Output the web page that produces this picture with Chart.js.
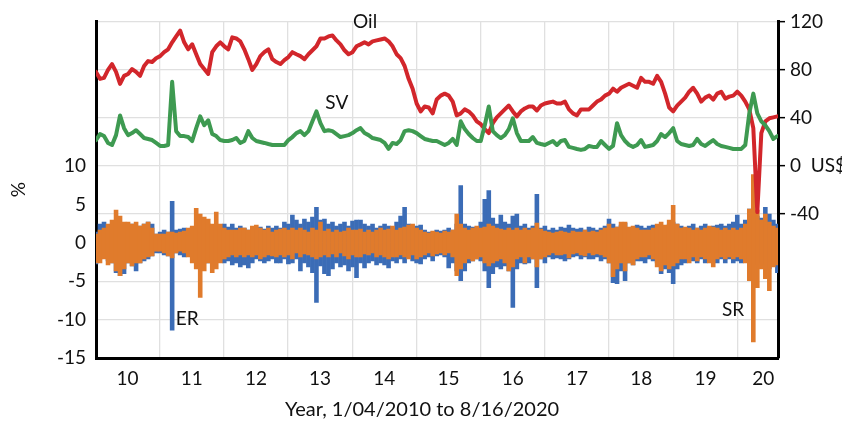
<!DOCTYPE html>
<html lang="en">
<head>
<meta charset="UTF-8">
<title>Oil price, SV, ER and SR, 2010-2020</title>
<script src="https://cdn.jsdelivr.net/npm/chart.js"></script>
<style>
  html, body { margin: 0; padding: 0; background: #fff; }
</style>
</head>
<body>
<canvas id="mainChart" width="842" height="425"></canvas>

<script>
// samples run evenly from 1/04/2010 to 8/16/2020 (decimal years)
const startYear = 2010.01;
const endYear = 2020.62;

// Oil price, US$ (right axis)
const oilPrice = [
  78, 72.2, 73, 79.6, 84.5, 78, 68, 74.7, 76.3, 80.4, 78, 74.7, 82.9, 87, 86.2, 89.4, 91.1, 94.4, 96.8, 102.6,
  107.5, 112.4, 102.6, 96.8, 100.9, 92.7, 84.5, 80.4, 76.3, 94.4, 99.3, 102.6, 99.3, 96.8, 106.7, 105.8, 103.4, 96.8, 88.6, 79.6,
  84.5, 91.1, 94.4, 96.8, 88.6, 86.2, 84.5, 87.8, 90.3, 94.4, 92.7, 91.1, 88.6, 92.7, 96, 99.3, 105.8, 105.8, 107.5, 108.3,
  104.2, 100.9, 96, 92.7, 94.4, 99.3, 100.9, 102.6, 100.9, 103.4, 104.2, 105, 105.8, 103.4, 99.3, 92.7, 89.4, 82.9, 72.2, 64,
  51.7, 45.1, 49.2, 48.4, 43.5, 55, 58.3, 59.9, 58.3, 53.3, 41.8, 43.5, 46.8, 45.1, 41.8, 36.9, 34.5, 30.4, 27.1, 35.3,
  40.2, 43.5, 46.8, 50, 45.1, 41, 45.1, 47.6, 49.2, 49.2, 45.9, 50, 51.7, 52.5, 53.3, 51.7, 51.7, 53.3, 46.8, 43.5,
  41.8, 46.8, 46.8, 46.8, 50, 53.3, 55, 58.3, 59.9, 64, 61.5, 64.8, 66.5, 68.1, 66.5, 64.8, 73, 69.7, 69.7, 68.1,
  74.7, 69.7, 59.9, 48.4, 45.1, 50, 53.3, 56.6, 61.5, 64.8, 59.9, 53.3, 56.6, 58.3, 55, 59.9, 61.5, 55.8, 57.4, 58.3,
  61.5, 58.3, 53.3, 46.8, 31.2, -38.6, 27.1, 36.9, 39.4, 40.2, 41
];

// SV level (right axis)
const svLevel = [
  21.3, 26.3, 24.6, 18.9, 17.2, 25.4, 41.8, 31.2, 25.4, 27.1, 29.5, 26.3, 23, 22.2, 21.3, 18.9, 16.4, 16.4, 17.2, 69.7,
  28.7, 24.6, 24.6, 23.8, 20.5, 31.2, 41, 33.6, 37.7, 26.3, 24.6, 21.3, 20.5, 20.5, 21.3, 23, 18.9, 20.5, 28.7, 23,
  20.5, 19.7, 18.9, 18, 17.2, 17.2, 17.2, 17.2, 21.3, 23.8, 27.1, 28.7, 25.4, 28.7, 36.9, 45.1, 35.3, 28.7, 29.5, 28.7,
  26.3, 23.8, 24.6, 25.4, 27.1, 29.5, 31.2, 27.1, 25.4, 23, 22.2, 21.3, 18.9, 13.9, 18.9, 18, 21.3, 28.7, 29.5, 28.7,
  27.1, 24.6, 22.2, 21.3, 20.5, 20.5, 18.9, 17.2, 18.9, 22.2, 17.2, 36.9, 30.4, 26.3, 23, 20.5, 20.5, 33.6, 49.2, 28.7,
  25.4, 23, 25.4, 30.4, 39.4, 27.1, 20.5, 20.5, 20.5, 23.8, 18.9, 18, 17.2, 18.9, 20.5, 17.2, 20.5, 21.3, 15.6, 14.8,
  13.9, 13.1, 13.9, 16.4, 15.6, 15.6, 20.5, 17.2, 13.9, 16.4, 35.3, 25.4, 20.5, 17.2, 15.6, 17.2, 21.3, 15.6, 16.4, 17.2,
  20.5, 26.3, 23.8, 27.1, 31.2, 20.5, 18, 17.2, 16.4, 17.2, 22.2, 18, 16.4, 18.9, 21.3, 18, 16.4, 15.6, 14.8, 13.9,
  13.9, 13.9, 17.2, 43.5, 59.9, 43.5, 36.9, 33.6, 28.7, 22.2, 24.6
];

// ER returns, %: upper and lower swing in each sample window (left axis)
const erHigh = [
  1.48, 2.51, 2.77, 2.13, 1.74, 2.26, 2.0, 1.74, 2.26, 2.51, 2.0, 2.26, 2.51, 2.77, 2.51, 1.22, 1.48, 1.74, 1.48, 5.48,
  1.74, 1.87, 2.0, 1.74, 2.13, 2.26, 2.51, 2.77, 2.51, 2.26, 2.26, 2.13, 2.51, 2.13, 2.51, 2.0, 2.26, 2.0, 1.74, 2.0,
  1.74, 2.13, 1.87, 2.26, 2.0, 2.26, 2.0, 2.77, 2.51, 3.67, 3.03, 2.51, 3.16, 2.77, 3.41, 4.7, 3.03, 3.16, 2.51, 2.77,
  2.26, 2.51, 2.77, 2.26, 2.9, 3.03, 3.03, 2.51, 2.26, 2.51, 2.0, 2.26, 2.51, 2.26, 2.0, 2.77, 3.54, 4.7, 2.51, 2.0,
  2.26, 2.38, 1.74, 1.48, 1.48, 1.74, 1.61, 1.74, 2.0, 1.74, 2.51, 7.54, 2.51, 2.26, 2.13, 2.0, 2.77, 5.73, 6.89, 3.29,
  2.51, 3.67, 2.77, 2.51, 3.54, 3.8, 2.26, 2.51, 2.0, 2.26, 6.38, 2.0, 2.26, 1.74, 2.0, 1.74, 2.13, 2.0, 2.38, 2.0,
  1.87, 2.0, 1.74, 2.13, 2.0, 1.74, 2.0, 2.26, 3.16, 2.51, 2.13, 2.38, 2.64, 2.0, 2.13, 2.38, 2.26, 2.0, 2.26, 2.38,
  2.0, 2.26, 2.26, 2.51, 2.77, 2.51, 2.26, 2.0, 2.26, 2.51, 2.0, 2.26, 2.51, 2.13, 2.26, 2.38, 2.51, 2.26, 2.51, 2.77,
  3.67, 2.51, 3.03, 4.45, 3.8, 3.54, 3.29, 4.7, 3.8, 3.03, 2.51
];
const erLow = [
  -2.77, -2.13, -1.74, -2.38, -2.64, -3.93, -4.32, -4.06, -2.64, -3.03, -3.67, -2.64, -2.38, -2.13, -1.74, -1.35, -1.35, -1.61, -1.74, -11.4,
  -1.35, -1.61, -1.87, -1.74, -1.87, -2.13, -2.64, -2.64, -2.64, -2.38, -2.13, -2.13, -2.64, -2.38, -2.9, -2.64, -3.16, -2.9, -3.29, -2.64,
  -2.13, -2.38, -2.64, -2.38, -2.13, -2.64, -2.64, -2.13, -2.77, -2.64, -2.13, -3.67, -2.64, -3.16, -3.93, -7.8, -3.03, -4.06, -4.32, -3.41,
  -2.64, -3.16, -2.9, -3.67, -3.16, -4.57, -2.64, -3.29, -2.64, -2.38, -2.9, -2.64, -2.9, -3.29, -2.38, -2.64, -2.13, -2.64, -1.87, -2.38,
  -2.64, -2.77, -2.13, -1.87, -2.38, -1.74, -1.61, -1.87, -3.29, -2.64, -3.67, -4.96, -3.67, -2.64, -2.38, -2.13, -2.38, -3.67, -5.86, -4.06,
  -3.16, -3.41, -3.03, -3.67, -8.44, -3.41, -2.64, -2.77, -2.64, -2.13, -5.86, -2.13, -2.64, -1.87, -2.13, -2.0, -2.13, -2.38, -2.13, -1.87,
  -1.74, -2.13, -1.87, -2.13, -2.13, -1.87, -2.38, -2.13, -2.64, -5.22, -5.35, -3.67, -4.96, -2.64, -2.9, -2.38, -2.38, -2.64, -2.13, -2.38,
  -2.64, -4.06, -3.41, -3.93, -5.35, -3.41, -2.9, -2.64, -2.13, -2.38, -2.64, -2.13, -2.64, -2.38, -2.13, -2.64, -2.13, -2.64, -2.13, -2.64,
  -2.38, -2.64, -2.13, -3.41, -2.9, -2.64, -2.64, -2.64, -3.41, -2.9, -3.93
];

// SR returns, %: upper and lower swing in each sample window (left axis)
const srHigh = [
  1.22, 1.74, 2.0, 2.51, 3.03, 4.32, 3.54, 2.77, 2.77, 2.51, 2.77, 2.26, 2.51, 2.77, 2.0, 1.22, 1.22, 1.22, 1.48, 1.48,
  1.35, 1.48, 1.61, 2.0, 2.26, 4.57, 3.8, 3.41, 3.16, 2.51, 4.06, 2.51, 2.0, 1.74, 1.74, 1.74, 2.0, 2.0, 1.74, 2.26,
  2.38, 2.0, 1.74, 2.0, 1.48, 1.74, 1.87, 2.0, 1.74, 2.0, 1.74, 2.0, 1.74, 1.48, 2.0, 1.74, 2.77, 1.61, 1.87, 1.48,
  1.74, 1.48, 1.61, 2.0, 1.74, 1.74, 1.87, 1.48, 1.74, 1.48, 1.74, 2.0, 1.74, 1.87, 2.26, 1.74, 2.0, 2.13, 2.38, 2.51,
  2.0, 1.74, 1.48, 1.35, 1.61, 1.48, 1.35, 1.61, 1.48, 1.74, 3.8, 2.51, 2.0, 1.74, 2.0, 2.26, 2.0, 2.13, 2.51, 2.26,
  2.0, 1.87, 1.74, 2.0, 1.74, 2.0, 1.74, 2.0, 1.74, 2.0, 2.64, 1.87, 1.61, 1.48, 1.35, 1.48, 1.61, 1.48, 1.35, 1.61,
  1.48, 1.48, 1.74, 1.48, 1.61, 1.48, 1.74, 2.0, 2.51, 2.0, 2.13, 2.77, 2.77, 2.13, 2.26, 2.0, 1.74, 1.74, 1.74, 2.0,
  2.51, 2.77, 2.38, 3.03, 4.96, 2.51, 2.0, 2.13, 2.0, 1.74, 2.0, 1.74, 2.0, 2.26, 2.13, 2.0, 1.74, 2.0, 1.74, 2.0,
  1.74, 2.0, 2.51, 4.45, 8.96, 4.32, 3.03, 3.8, 2.77, 2.26, 2.0
];
const srLow = [
  -2.64, -2.64, -2.13, -2.9, -2.64, -3.67, -4.32, -3.41, -2.64, -3.03, -2.64, -2.64, -2.13, -1.87, -1.74, -1.1, -1.1, -1.35, -1.74, -2.0,
  -1.35, -1.1, -1.35, -1.87, -2.64, -3.41, -7.15, -3.67, -2.64, -3.93, -3.41, -2.64, -2.13, -1.87, -1.61, -1.87, -1.61, -1.87, -1.61, -1.87,
  -1.61, -2.13, -1.87, -1.61, -1.74, -1.87, -1.61, -1.87, -1.61, -2.13, -1.35, -1.87, -1.48, -1.61, -1.87, -2.13, -1.87, -1.61, -1.87, -1.48,
  -1.87, -1.35, -1.74, -2.13, -1.61, -1.87, -1.87, -1.48, -1.61, -1.35, -1.87, -1.61, -1.87, -2.13, -1.87, -1.87, -1.61, -1.87, -2.13, -1.61,
  -2.13, -1.87, -1.61, -1.35, -1.74, -1.48, -1.35, -1.61, -1.35, -1.87, -4.32, -3.41, -2.64, -2.13, -2.38, -2.13, -1.87, -2.64, -3.03, -2.64,
  -2.38, -2.13, -2.64, -3.67, -3.16, -2.13, -1.87, -2.64, -1.87, -2.13, -3.16, -2.13, -1.87, -1.61, -1.35, -1.61, -1.61, -1.48, -2.0, -1.48,
  -1.35, -1.61, -1.74, -1.35, -1.61, -1.48, -1.61, -1.87, -2.64, -4.45, -3.41, -2.64, -3.67, -2.64, -2.9, -2.13, -1.87, -1.87, -1.61, -2.13,
  -3.16, -3.67, -2.9, -3.41, -3.03, -2.64, -2.13, -2.13, -2.64, -1.87, -2.38, -1.87, -2.13, -2.64, -3.16, -2.13, -1.87, -2.13, -1.87, -2.13,
  -1.87, -2.13, -2.64, -4.96, -12.95, -5.86, -3.41, -4.7, -6.25, -3.16, -2.9
];

// axis ticks
const yearLines = [2011, 2012, 2013, 2014, 2015, 2016, 2017, 2018, 2019, 2020];
const yearLabelAt = [2010.5, 2011.5, 2012.5, 2013.5, 2014.5, 2015.5, 2016.5, 2017.5, 2018.5, 2019.5, 2020.4];
const yearLabels = ['10', '11', '12', '13', '14', '15', '16', '17', '18', '19', '20'];
const pctTicks = [-15, -10, -5, 0, 5, 10];
const usdTicks = [-40, 0, 40, 80, 120];

const FONT = 'Lato, "Open Sans", sans-serif';
const INK = '#111';
const GRID = '#e0e0e0';

function dateAt(i, n) {
  return startYear + i * (endYear - startYear) / (n - 1);
}

function asLine(values) {
  return values.map((v, i) => ({ x: dateAt(i, values.length), y: v }));
}

// floating bar from the low swing to the high swing of each window
function asRange(high, low) {
  return high.map((h, i) => ({ x: dateAt(i, high.length), y: [low[i], h] }));
}

// series names written next to the lines
const seriesNotes = [
  { text: 'Oil', year: 2014.2, value: 119.5, axis: 'yUsd' },
  { text: 'SV', year: 2013.76, value: 52, axis: 'yUsd' },
  { text: 'ER', year: 2011.43, value: -9.85, axis: 'yPct' },
  { text: 'SR', year: 2019.93, value: -8.7, axis: 'yPct' }
];

const notesPlugin = {
  id: 'notes',
  afterDatasetsDraw(chart) {
    const ctx = chart.ctx;
    ctx.save();
    ctx.fillStyle = INK;
    ctx.font = '19px ' + FONT;
    ctx.textAlign = 'center';
    ctx.textBaseline = 'middle';
    seriesNotes.forEach(n => {
      const x = chart.scales.x.getPixelForValue(n.year);
      const y = chart.scales[n.axis].getPixelForValue(n.value);
      ctx.fillText(n.text, x, y);
    });
    // x axis title
    const area = chart.chartArea;
    ctx.font = '20px ' + FONT;
    ctx.fillText('Year, 1/04/2010 to 8/16/2020', (area.left + area.right) / 2 - 15, 410);
    ctx.restore();
  }
};

const lineStyle = {
  type: 'line',
  pointRadius: 0,
  tension: 0,
  borderJoinStyle: 'round',
  borderCapStyle: 'round',
  fill: false
};

const rangeStyle = {
  type: 'bar',
  borderWidth: 0,
  barPercentage: 1.15,
  categoryPercentage: 1,
  grouped: false,
  yAxisID: 'yPct'
};

new Chart(document.getElementById('mainChart'), {
  type: 'line',
  data: {
    datasets: [
      Object.assign({ label: 'ER', data: asRange(erHigh, erLow), backgroundColor: '#3b6cb6', order: 4 }, rangeStyle),
      Object.assign({ label: 'SR', data: asRange(srHigh, srLow), backgroundColor: '#e07b2c', order: 3 }, rangeStyle),
      Object.assign({ label: 'Oil', data: asLine(oilPrice), borderColor: '#d2262b', borderWidth: 4, yAxisID: 'yUsd', order: 2 }, lineStyle),
      Object.assign({ label: 'SV', data: asLine(svLevel), borderColor: '#3e9a51', borderWidth: 4, yAxisID: 'yUsd', order: 1 }, lineStyle)
    ]
  },
  options: {
    responsive: false,
    animation: false,
    events: [],
    layout: { padding: { top: 17, left: 0, right: 0, bottom: 0 } },
    plugins: { legend: { display: false }, tooltip: { enabled: false } },
    scales: {
      x: {
        type: 'linear',
        position: 'bottom',
        offset: false,
        min: startYear,
        max: 2020.63,
        afterBuildTicks: s => { s.ticks = yearLabelAt.map(v => ({ value: v })); },
        afterFit: s => { s.height = 67; },
        ticks: {
          autoSkip: false,
          maxRotation: 0,
          padding: 1,
          color: INK,
          font: { family: FONT, size: 19 },
          callback: (v, i) => yearLabels[i]
        },
        grid: { display: false },
        border: { display: true, color: '#000', width: 3 }
      },
      xYears: {
        type: 'linear',
        position: 'top',
        min: startYear,
        max: 2020.63,
        afterBuildTicks: s => { s.ticks = yearLines.map(v => ({ value: v })); },
        afterFit: s => { s.height = 0; },
        ticks: { display: false },
        grid: { color: GRID, lineWidth: 1.3, drawTicks: false },
        border: { display: false }
      },
      yPct: {
        type: 'linear',
        position: 'left',
        min: -15,
        max: 28.9,
        afterBuildTicks: s => { s.ticks = pctTicks.map(v => ({ value: v })); },
        afterFit: s => { s.width = 96; },
        ticks: {
          padding: 10,
          color: INK,
          font: { family: FONT, size: 19 }
        },
        grid: {
          color: c => (c.tick && c.tick.value > 0 ? 'rgba(0,0,0,0)' : GRID),
          lineWidth: 1.3,
          drawTicks: false
        },
        border: { display: true, color: '#000', width: 3 },
        title: {
          display: true,
          text: '%',
          color: INK,
          font: { family: FONT, size: 19 },
          padding: { top: 7, bottom: 0 }
        }
      },
      yUsd: {
        type: 'linear',
        position: 'right',
        min: -160,
        max: 120,
        afterBuildTicks: s => { s.ticks = usdTicks.map(v => ({ value: v })); },
        afterFit: s => { s.width = 64; },
        ticks: {
          padding: 5,
          color: INK,
          font: { family: FONT, size: 19 },
          callback: v => (v === 0 ? '0  US$' : String(v))
        },
        grid: { color: GRID, lineWidth: 1.3, tickColor: '#000', tickLength: 7, tickWidth: 1.5 },
        border: { display: true, color: '#000', width: 3 }
      }
    }
  },
  plugins: [notesPlugin]
});
</script>
</body>
</html>
